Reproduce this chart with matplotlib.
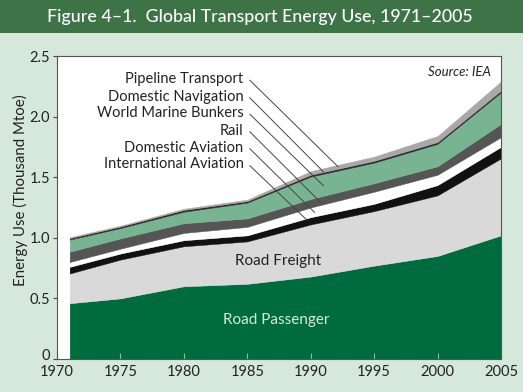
import matplotlib.pyplot as plt
import matplotlib.transforms as mtransforms
from matplotlib.patches import Rectangle

plt.rcParams['font.family'] = ['Lato', 'DejaVu Sans']

# data (thousand Mtoe)
years = [1971, 1975, 1980, 1985, 1990, 1995, 2000, 2005]
road_passenger = [0.46, 0.50, 0.60, 0.62, 0.68, 0.77, 0.85, 1.02]
road_freight = [0.245, 0.32, 0.33, 0.35, 0.43, 0.45, 0.50, 0.635]
intl_aviation = [0.055, 0.05, 0.05, 0.05, 0.06, 0.06, 0.085, 0.095]
dom_aviation = [0.04, 0.04, 0.06, 0.07, 0.08, 0.10, 0.085, 0.08]
rail = [0.085, 0.085, 0.08, 0.07, 0.07, 0.07, 0.07, 0.11]
marine_bunkers = [0.10, 0.085, 0.095, 0.13, 0.185, 0.17, 0.185, 0.26]
dom_navigation = [0.012, 0.013, 0.015, 0.013, 0.015, 0.015, 0.015, 0.015]
pipeline = [0.008, 0.007, 0.01, 0.012, 0.03, 0.035, 0.05, 0.075]

colors = ['#006b3c', '#d9d9d9', '#111111', '#ffffff', '#555555',
          '#78b491', '#2b2b2b', '#a8a8a8']

# leader labels: text y, end point of the leader line
leader_names = ['Pipeline Transport', 'Domestic Navigation', 'World Marine Bunkers',
                'Rail', 'Domestic Aviation', 'International Aviation']
leader_text_y = [2.31, 2.165, 2.03, 1.885, 1.745, 1.605]
leader_end = [(1992.15, 1.587), (1991.0, 1.545), (1991.0, 1.43),
              (1990.8, 1.29), (1990.3, 1.21), (1989.7, 1.147)]

bg = '#d6e7dc'
fig = plt.figure(figsize=(5.23, 3.92), dpi=100, facecolor=bg)
fig.patches.append(Rectangle((0, 1 - 33/392), 1, 33/392, transform=fig.transFigure,
                             facecolor='#3e7348', edgecolor='none', zorder=0))
fig.text(0.496, 1 - 17/392, 'Figure 4\u20131.  Global Transport Energy Use, 1971\u20132005',
         color='white', fontsize=12.8, ha='center', va='center', fontweight='medium')

ax = fig.add_axes([57/523, 33/392, 444/523, 303/392])
ax.set_facecolor('white')

ax.stackplot(years, road_passenger, road_freight, intl_aviation, dom_aviation, rail,
             marine_bunkers, dom_navigation, pipeline, colors=colors,
             edgecolor='face', linewidth=0.3)

ax.set_xlim(1970, 2005)
ax.set_ylim(0, 2.5)
ax.set_xticks(range(1970, 2006, 5))
ax.set_yticks([0, 0.5, 1.0, 1.5, 2.0, 2.5])
ax.set_yticklabels(['0', '0.5', '1.0', '1.5', '2.0', '2.5'])
ax.tick_params(axis='x', direction='in', length=4, color='#7fc29a', labelsize=10.5,
               labelcolor='#222222', pad=4)
ax.tick_params(axis='y', direction='out', length=3, color='#444444', labelsize=10.5,
               labelcolor='#222222', pad=2)
# nudge the "0" up a little so it clears the 1970 label
zero = ax.get_yticklabels()[0]
zero.set_transform(zero.get_transform() + mtransforms.ScaledTranslation(0, 3/72, fig.dpi_scale_trans))
for s in ax.spines.values():
    s.set_color('#555555')
    s.set_linewidth(0.8)
ax.set_ylabel('Energy Use (Thousand Mtoe)', fontsize=10.8, color='#222222')
ax.yaxis.set_label_coords(-0.066, 0.558)

ax.text(1987.4, 0.81, 'Road Freight', fontsize=11, ha='center', va='center', color='#222222')
ax.text(1987.3, 0.32, 'Road Passenger', fontsize=11, ha='center', va='center', color='#d4ebdb')
ax.text(2004.2, 2.37, 'Source: IEA', fontsize=9.5, ha='right', va='center',
        style='italic', color='#222222')

for name, ty, (ex, ey) in zip(leader_names, leader_text_y, leader_end):
    ax.text(1984.7, ty, name, fontsize=10.5, ha='right', va='center', color='#222222')
    ax.plot([1985.2, ex], [ty - 0.01, ey], color='#444444', linewidth=0.7)

fig.savefig('out.png', dpi=100, facecolor=bg)
